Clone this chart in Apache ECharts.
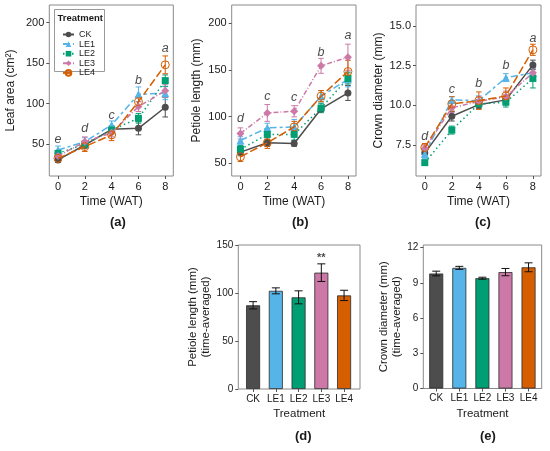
<!DOCTYPE html>
<html>
<head>
<meta charset="utf-8">
<script src="https://cdn.jsdelivr.net/npm/echarts@6/dist/echarts.min.js"></script>
<style>
  html, body { margin: 0; padding: 0; background: #fff; }
  #main { width: 550px; height: 451px; }
</style>
</head>
<body>
<div id="main"></div>
<script>
// data
var weeks = [0, 2, 4, 6, 8];
var treatments = ['CK', 'LE1', 'LE2', 'LE3', 'LE4'];

// (a) leaf area, one row per treatment
var leafMean = [
    [30.5, 49, 68.4, 69.6, 95.6],
    [42.7, 53, 73.7, 111.7, 113],
    [38.7, 50, 67.5, 82, 128.5],
    [35.4, 53, 64, 96.4, 116],
    [32.5, 47, 61.4, 102.5, 148]
];
var leafErr = [
    [3, 4, 4, 8, 12],
    [5, 5, 5, 9, 8],
    [3, 4, 5, 6, 7],
    [3, 6, 5, 6, 8],
    [3, 6, 7, 6, 11]
];
var leafLetters = ['e', 'd', 'c', 'b', 'a'];
var leafLetterY = [56, 69, 86, 129, 168];

// (b) petiole length
var petioleMean = [
    [62, 72, 71.3, 108.3, 125.4],
    [74.5, 88, 89, 121.8, 140],
    [65, 81, 81, 109.3, 141],
    [82, 104, 105.8, 154.5, 163.7],
    [57, 72, 89, 122, 148.4]
];
var petioleErr = [
    [4, 4, 3, 3, 8],
    [4, 5, 8, 6, 8],
    [4, 6, 6, 5, 6],
    [6, 9, 6, 8, 14],
    [5, 6, 6, 6, 12]
];
var petioleLetters = ['d', 'c', 'c', 'b', 'a'];
var petioleLetterY = [97.6, 121.8, 120, 168.7, 187.5];

// (c) crown diameter
var crownMean = [
    [7.0, 9.32, 10.05, 10.35, 12.55],
    [6.95, 10.35, 10.3, 11.75, 12.05],
    [6.4, 8.45, 10.1, 10.2, 11.7],
    [7.3, 9.85, 10.25, 10.55, 12.05],
    [7.35, 10.1, 10.3, 10.6, 13.5]
];
var crownErr = [
    [0.25, 0.3, 0.25, 0.3, 0.3],
    [0.3, 0.2, 0.3, 0.25, 0.35],
    [0.15, 0.25, 0.25, 0.3, 0.6],
    [0.2, 0.3, 0.3, 0.35, 0.3],
    [0.25, 0.45, 0.55, 0.5, 0.35]
];
var crownLetters = ['d', 'c', 'b', 'b', 'a'];
var crownLetterY = [8.03, 11.02, 11.4, 12.5, 14.2];

// (d) / (e) time-averaged
var petioleAvg = [87.5, 102.6, 95.8, 121.6, 97.8];
var petioleAvgErr = [3.8, 3.1, 6.8, 9.2, 5.4];
var crownAvg = [9.8, 10.28, 9.4, 9.92, 10.33];
var crownAvgErr = [0.2, 0.13, 0.085, 0.31, 0.38];
var sigMark = ['', '', '', '**', ''];
var sigY = 137;

var colors = ['#4D4D4D', '#56B4E9', '#009E73', '#CC79A7', '#D55E00'];
var symbols = ['circle', 'triangle', 'rect', 'diamond', 'circle'];
var symbolSizes = [7, 8, 7, 8, 8];
var dashes = ['solid', [7, 3, 3, 3], [1.5, 3], [5, 2, 1, 2], [8, 3]];

var FONT = 'Liberation Sans, Arial, sans-serif';
var TXT = '#1a1a1a';

var myChart = echarts.init(document.getElementById('main'), null, {renderer: 'canvas'});

function errRender(capHalf) {
    return function (params, api) {
        var x = api.value(0), y = api.value(1), e = api.value(2);
        var top = api.coord([x, y + e]);
        var bot = api.coord([x, y - e]);
        var st = {stroke: api.visual('color'), lineWidth: 1};
        return {
            type: 'group',
            children: [
                {type: 'line', shape: {x1: top[0], y1: top[1], x2: bot[0], y2: bot[1]}, style: st},
                {type: 'line', shape: {x1: top[0] - capHalf, y1: top[1], x2: top[0] + capHalf, y2: top[1]}, style: st},
                {type: 'line', shape: {x1: bot[0] - capHalf, y1: bot[1], x2: bot[0] + capHalf, y2: bot[1]}, style: st}
            ]
        };
    };
}

var grids = [
    {left: 49.3, top: 5, width: 124, height: 171},
    {left: 231.7, top: 5, width: 124.3, height: 171},
    {left: 416, top: 5, width: 125, height: 171},
    {left: 238.3, top: 245, width: 121.7, height: 144},
    {left: 423.3, top: 245, width: 118.4, height: 143.5}
].map(function (g) {
    g.show = true;
    g.borderColor = '#8a8a8a';
    g.borderWidth = 1;
    g.backgroundColor = '#fff';
    g.containLabel = false;
    return g;
});

function xTime(idx) {
    return {
        gridIndex: idx, type: 'value', min: -0.65, max: 8.6,
        name: 'Time (WAT)', nameLocation: 'middle', nameGap: 20,
        nameTextStyle: {fontFamily: FONT, fontSize: 12, color: TXT},
        axisLine: {show: false, onZero: false},
        axisTick: {show: true, length: 3, customValues: weeks, lineStyle: {color: '#555'}},
        axisLabel: {customValues: weeks, margin: 5, fontFamily: FONT, fontSize: 11, color: TXT},
        splitLine: {show: false}
    };
}
function xTreat(idx, min, max) {
    return {
        gridIndex: idx, type: 'value', min: min, max: max,
        name: 'Treatment', nameLocation: 'middle', nameGap: 19,
        nameTextStyle: {fontFamily: FONT, fontSize: 11.5, color: TXT},
        axisLine: {show: false, onZero: false},
        axisTick: {show: true, length: 3, customValues: [0, 1, 2, 3, 4], lineStyle: {color: '#555'}},
        axisLabel: {
            customValues: [0, 1, 2, 3, 4], margin: 5, fontFamily: FONT, fontSize: 10, color: TXT,
            formatter: function (v) { return treatments[Math.round(v)]; }
        },
        splitLine: {show: false}
    };
}
function yAxis(idx, min, max, ticks, name, gap, fmt, fs, nfs) {
    return {
        gridIndex: idx, type: 'value', min: min, max: max,
        name: name, nameLocation: 'middle', nameGap: gap, nameRotate: 90,
        nameTextStyle: {fontFamily: FONT, fontSize: nfs, color: TXT, lineHeight: 13},
        axisLine: {show: false, onZero: false},
        axisTick: {show: true, length: 3, customValues: ticks, lineStyle: {color: '#555'}},
        axisLabel: {customValues: ticks, margin: 5, fontFamily: FONT, fontSize: fs, color: TXT,
            formatter: fmt || function (v) { return String(v); }},
        splitLine: {show: false}
    };
}

var xAxes = [xTime(0), xTime(1), xTime(2), xTreat(3, -0.65, 4.7), xTreat(4, -0.56, 4.57)];
var yAxes = [
    yAxis(0, 10.7, 221.9, [50, 100, 150, 200], 'Leaf area (cm²)', 32, null, 11, 12),
    yAxis(1, 36.4, 219.7, [50, 100, 150, 200], 'Petiole length (mm)', 29, null, 11, 12),
    yAxis(2, 5.56, 16.32, [7.5, 10, 12.5, 15], 'Crown diameter (mm)', 31,
        function (v) { return v.toFixed(1); }, 11, 12),
    yAxis(3, 0, 150.5, [0, 50, 100, 150], 'Petiole length (mm)\n(time-averaged)', 24, null, 10, 11.5),
    yAxis(4, 0, 12.23, [0, 3, 6, 9, 12], 'Crown diameter (mm)\n(time-averaged)', 20, null, 10, 11.5)
];

var series = [];
var panels = [
    {mean: leafMean, err: leafErr, letters: leafLetters, ly: leafLetterY},
    {mean: petioleMean, err: petioleErr, letters: petioleLetters, ly: petioleLetterY},
    {mean: crownMean, err: crownErr, letters: crownLetters, ly: crownLetterY}
];

// lines and points (listed first so the legend takes its icons from them)
panels.forEach(function (p, pi) {
    treatments.forEach(function (t, ti) {
        var open = ti === 4;
        series.push({
            type: 'line', name: t, xAxisIndex: pi, yAxisIndex: pi,
            data: weeks.map(function (w, k) { return [w, p.mean[ti][k]]; }),
            symbol: symbols[ti], symbolSize: symbolSizes[ti], showSymbol: true,
            itemStyle: open
                ? {color: 'rgba(255,255,255,0)', borderWidth: 1, borderColor: colors[ti]}
                : {color: colors[ti], borderWidth: 0},
            lineStyle: {color: colors[ti], width: 1.5, type: dashes[ti]},
            animation: false, z: 3 + ti
        });
    });
});
// error bars, drawn underneath the points
panels.forEach(function (p, pi) {
    treatments.forEach(function (t, ti) {
        series.push({
            type: 'custom', name: t, xAxisIndex: pi, yAxisIndex: pi,
            renderItem: errRender(2.8),
            itemStyle: {color: colors[ti], opacity: 0.75},
            data: weeks.map(function (w, k) { return [w, p.mean[ti][k], p.err[ti][k]]; }),
            z: 2, silent: true
        });
    });
    series.push({
        type: 'scatter', xAxisIndex: pi, yAxisIndex: pi, symbolSize: 0,
        data: weeks.map(function (w, k) { return {value: [w, p.ly[k]], label: {formatter: p.letters[k]}}; }),
        label: {show: true, position: 'inside', fontFamily: FONT, fontSize: 12.5,
            fontStyle: 'italic', color: TXT},
        silent: true, z: 10
    });
});

// (d) and (e) bars
[[petioleAvg, petioleAvgErr, 3], [crownAvg, crownAvgErr, 4]].forEach(function (b) {
    series.push({
        type: 'bar', xAxisIndex: b[2], yAxisIndex: b[2], barWidth: 14,
        data: b[0].map(function (v, i) {
            return {value: [i, v], itemStyle: {color: colors[i]}};
        }),
        itemStyle: {borderColor: '#2b2b2b', borderWidth: 0.8},
        animation: false
    });
    series.push({
        type: 'custom', xAxisIndex: b[2], yAxisIndex: b[2],
        renderItem: errRender(4),
        itemStyle: {color: '#111'},
        data: b[0].map(function (v, i) { return [i, v, b[1][i]]; }),
        z: 5, silent: true
    });
});
series.push({
    type: 'scatter', xAxisIndex: 3, yAxisIndex: 3, symbolSize: 0,
    data: sigMark.map(function (s, i) { return {value: [i, sigY], label: {formatter: s}}; }),
    label: {show: true, position: 'inside', fontFamily: FONT, fontSize: 11, fontWeight: 'bold', color: TXT},
    silent: true
});

var option = {
    backgroundColor: '#fff',
    animation: false,
    grid: grids,
    xAxis: xAxes,
    yAxis: yAxes,
    legend: {
        data: treatments, orient: 'vertical', left: 57, top: 25,
        itemWidth: 11, itemHeight: 7, itemGap: 0.6,
        textStyle: {fontFamily: FONT, fontSize: 9, color: TXT, lineHeight: 7.2},
        selectedMode: false, z: 20
    },
    graphic: [
        {type: 'rect', shape: {x: 54.5, y: 9.5, width: 50, height: 62}, style: {fill: '#fff', stroke: '#9a9a9a', lineWidth: 1}, z: 15},
        {type: 'text', left: 57.5, top: 13, style: {text: 'Treatment', font: 'bold 9.5px ' + FONT, fill: TXT}, z: 16},
        {type: 'text', left: 110, top: 216, style: {text: '(a)', font: 'bold 13px ' + FONT, fill: TXT}},
        {type: 'text', left: 292, top: 216, style: {text: '(b)', font: 'bold 13px ' + FONT, fill: TXT}},
        {type: 'text', left: 475, top: 216, style: {text: '(c)', font: 'bold 13px ' + FONT, fill: TXT}},
        {type: 'text', left: 295, top: 430, style: {text: '(d)', font: 'bold 13px ' + FONT, fill: TXT}},
        {type: 'text', left: 480, top: 430, style: {text: '(e)', font: 'bold 13px ' + FONT, fill: TXT}}
    ],
    series: series
};

myChart.setOption(option);
</script>
</body>
</html>
